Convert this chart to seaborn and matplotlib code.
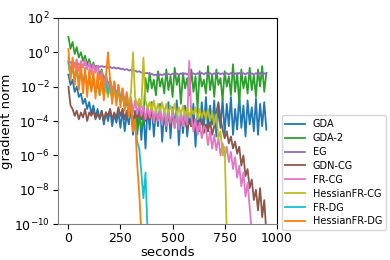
import matplotlib
matplotlib.use("Agg")
import matplotlib.pyplot as plt
import numpy as np
import pandas as pd
import seaborn as sns

# time grid (seconds) shared by all runs, 10 s sampling
STEP = 10

# log10 of gradient norm
GDA = [
    -1.3, -1.9, -1.6, -2.3, -2.0, -2.6,
    -2.4, -3.0, -2.7, -3.3, -2.9, -3.6, -3.1, -3.8, -3.3, -3.9,
    -3.4, -4.2, -3.5, -4.0, -3.3, -4.3, -3.6, -4.1, -3.5, -4.4,
    -3.3, -4.6, -3.6, -4.2, -3.2, -4.8, -3.5, -4.4, -3.0, -5.1,
    -3.4, -5.6, -3.1, -4.5, -2.9, -4.9, -3.3, -4.3, -3.0, -5.2,
    -3.5, -4.6, -2.9, -5.0, -3.2, -4.4, -2.8, -5.4, -3.4, -4.7,
    -3.1, -4.9, -3.6, -4.3, -3.0, -5.5, -3.3, -4.6, -2.9, -4.4,
    -2.6, -4.6, -3.1, -4.2, -2.8, -4.9, -3.2, -4.4, -2.7, -4.7,
    -3.0, -4.3, -2.6, -4.8, -3.3, -4.5, -2.5, -4.4, -3.1, -4.9,
    -2.8, -4.2, -3.2, -4.6, -2.7, -4.8, -3.0, -4.3, -2.9, -4.5,
]
GDA_2 = [
    0.9, 0.2, 0.6, -0.1, 0.3, -0.3,
    0.0, -0.5, -0.2, -0.7, -0.4, -0.9, -0.6, -1.1, -0.8, -1.3,
    -1.0, -1.6, -1.3, -1.9, -1.6, -2.2, -1.9, -2.5, -2.2, -2.8,
    -2.5, -3.2, -2.9, -3.6, -3.2, -4.2, -3.6, -4.8, -3.8, -4.4,
    -3.9, -1.5, -2.3, -1.2, -2.1, -1.6, -2.5, -1.1, -2.0, -1.5,
    -2.4, -1.0, -2.2, -1.4, -2.6, -0.9, -1.9, -1.3, -3.0, -1.2,
    -2.1, -1.5, -2.5, -1.0, -2.3, -1.4, -3.3, -1.1, -2.0, -1.6,
    -2.4, -0.8, -2.2, -1.3, -2.6, -1.0, -1.9, -1.5, -2.8, -1.1,
    -2.0, -1.4, -2.5, -0.7, -2.3, -1.2, -3.0, -1.0, -2.1, -1.4,
    -2.4, -0.9, -2.2, -1.3, -2.6, -1.0, -2.0, -0.8, -2.3, -1.2,
]
EG = [
    -0.5, -0.6, -0.55, -0.65, -0.6, -0.7,
    -0.68, -0.75, -0.7, -0.78, -0.72, -0.8, -0.76, -0.82, -0.78, -0.85,
    -0.8, -0.86, -0.82, -0.9, -0.85, -0.92, -0.88, -0.95, -0.9, -0.98,
    -0.95, -1.02, -0.98, -1.06, -1.02, -1.1, -1.06, -1.14, -1.1, -1.18,
    -1.15, -1.22, -1.2, -1.28, -1.25, -1.33, -1.3, -1.36, -1.28, -1.34,
    -1.26, -1.33, -1.25, -1.32, -1.24, -1.31, -1.23, -1.3, -1.22, -1.3,
    -1.22, -1.3, -1.2, -1.28, -1.22, -1.3, -1.21, -1.29, -1.2, -1.28,
    -1.2, -1.28, -1.21, -1.3, -1.22, -1.29, -1.2, -1.28, -1.22, -1.3,
    -1.21, -1.29, -1.2, -1.3, -1.22, -1.28, -1.2, -1.3, -1.21, -1.29,
    -1.2, -1.28, -1.22, -1.3, -1.21, -1.29, -1.2, -1.3, -1.22, -1.28,
]
GDN_CG = [
    -2.0, -3.1, -3.3, -3.7, -3.4, -3.9,
    -3.5, -3.8, -3.3, -4.0, -3.5, -3.7, -3.4, -3.9, -3.6, -3.8,
    -3.4, -4.0, -3.5, -3.7, -3.3, -3.9, -3.5, -3.8, -3.2, -3.7,
    -3.3, -3.9, -3.4, -3.8, -3.5, -4.1, -3.4, -3.8, -3.6, -3.9,
    -3.5, -4.0, -3.6, -3.9, -3.4, -4.1, -3.7, -3.9, -3.5, -4.2,
    -3.6, -4.0, -3.8, -4.3, -3.7, -4.1, -3.9, -4.4, -3.8, -4.2,
    -3.9, -4.5, -4.0, -4.3, -3.8, -4.6, -4.1, -4.4, -3.9, -4.7,
    -4.2, -4.6, -4.0, -4.8, -4.3, -3.5, -2.9, -3.8, -4.5, -5.0,
    -4.6, -5.3, -4.9, -5.6, -5.2, -5.9, -5.5, -6.6, -6.0, -7.2,
    -6.8, -7.9, -7.4, -8.6, -8.0, -9.2, -7.9, -9.6, -8.6, -10.5,
]
FR_CG = [
    -0.3, -1.2, -0.5, -0.9, -0.4, -1.1,
    -0.5, -0.9, -0.4, -1.0, -0.6, -1.3, -0.7, -1.2, -0.8, -1.6,
    -1.1, -1.9, -1.3, -2.2, -1.5, -2.4, -1.7, -2.6, -1.9, -2.8,
    -2.1, -3.0, -2.3, -3.2, -2.6, -3.5, -2.8, -3.6, -3.0, -3.7,
    -3.1, -3.9, -3.2, -3.8, -3.0, -4.1, -3.3, -4.0, -3.4, -4.2,
    -3.3, -4.3, -3.5, -4.1, -3.4, -4.4, -3.6, -4.5, -3.5, -4.3,
    -3.7, -4.2, -0.5, -3.8, -4.6, -3.9, -4.8, -4.1, -5.0, -4.3,
    -4.5, -5.4, -4.6, -5.6, -4.8, -5.7, -5.0, -6.0, -5.3, -6.1,
    -5.5, -6.4, -5.8, -6.8, -6.1, -7.3, -6.6, -7.8, -7.0, -8.4,
    -7.6, -9.0, -10.5,
]
HESSIAN_FR_CG = [
    -0.6, -1.5, -0.9, -1.7, -1.1, -1.8,
    -1.2, -1.9, -1.4, -2.0, -1.5, -2.1, -1.6, -2.3, -1.8, -2.4,
    -1.9, -2.5, -2.0, -2.6, -2.1, -2.7, -2.2, -2.8, -2.3, -2.9,
    -2.4, -2.9, -2.5, -3.0, -2.4, 0.0, -2.6, -3.1, -2.7, -3.2,
    -0.3, -2.8, -3.3, -2.9, -3.4, -2.8, -3.5, -3.0, -3.4, -2.9,
    -3.5, -3.0, -3.6, -3.1, -3.5, -3.0, -3.7, -3.2, -3.6, -3.1,
    -3.7, -3.2, -3.8, -3.3, -3.6, -3.2, -3.9, -3.3, -3.8, -3.4,
    -3.9, -3.3, -4.0, -3.5, -4.2, -3.6, -5.0, -4.6, -6.0, -5.5,
    -10.5,
]
FR_DG = [
    -0.6, -1.3, -0.9, -1.5, -1.0, -1.7,
    -1.1, -1.8, -1.2, -2.0, -1.4, -2.2, -1.6, -2.3, -1.8, -2.5,
    -1.6, -2.3, -1.7, -2.4, -1.8, -2.5, -1.9, -2.6, -2.0, -2.7,
    -2.3, -3.0, -2.6, -3.4, -3.0, -4.2, -4.0, -5.2, -5.6, -7.0,
    -8.5, -7.0, -10.5,
]
HESSIAN_FR_DG = [
    0.2, -1.6, -0.3, -1.9, -0.6, -2.2,
    -0.7, -2.4, -0.9, -2.6, -1.0, -2.3, -1.1, -2.7, -1.2, -2.5,
    -1.3, -2.8, -1.4, 0.0, -1.6, -3.0, -1.7, -3.1, -1.9, -3.2,
    -2.1, -3.4, -2.4, -3.8, -2.8, -4.6, -3.9, -6.5, -8.2, -10.5,
]

METHODS = ["GDA", "GDA-2", "EG", "GDN-CG", "FR-CG", "HessianFR-CG", "FR-DG", "HessianFR-DG"]
SERIES = [GDA, GDA_2, EG, GDN_CG, FR_CG, HESSIAN_FR_CG, FR_DG, HESSIAN_FR_DG]
COLOURS = ["C0", "C2", "C4", "C5", "C6", "C8", "C9", "C1"]

frames = []
for name, logs in zip(METHODS, SERIES):
    frames.append(pd.DataFrame({
        "seconds": np.arange(len(logs)) * STEP,
        "gradient norm": 10.0 ** np.array(logs),
        "method": name,
    }))
df = pd.concat(frames, ignore_index=True)

fig = plt.figure(figsize=(3.9, 2.6), dpi=100)
ax = fig.add_axes([0.1487, 0.138, 0.562, 0.793])
sns.lineplot(
    data=df, x="seconds", y="gradient norm", hue="method",
    hue_order=METHODS, palette=dict(zip(METHODS, COLOURS)),
    estimator=None, sort=False, linewidth=1.3, ax=ax,
)
ax.set_yscale("log")
ax.set_ylim(1e-10, 1e2)
ax.set_xlim(-50, 1002)
ax.set_yticks([1e2, 1e0, 1e-2, 1e-4, 1e-6, 1e-8, 1e-10])
ax.yaxis.set_minor_locator(matplotlib.ticker.NullLocator())
ax.set_xticks([0, 250, 500, 750, 1000])
ax.tick_params(labelsize=9, pad=2.5)
ax.set_xlabel("seconds", fontsize=9.5, labelpad=0.5)
ax.set_ylabel("gradient norm", fontsize=9.5, labelpad=0.5)
ax.spines["left"].set_color("gray")
ax.spines["bottom"].set_color("gray")
ax.legend(loc="lower left", bbox_to_anchor=(1.02, -0.03), borderaxespad=0,
          fontsize=7, labelspacing=0.4, frameon=True)
fig.savefig("out.png", dpi=100)
